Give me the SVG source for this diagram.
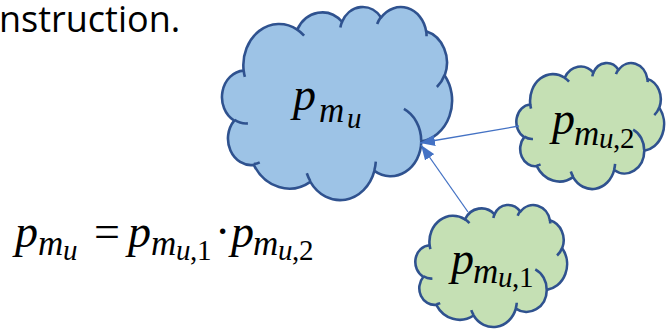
<svg xmlns="http://www.w3.org/2000/svg" xmlns:xlink="http://www.w3.org/1999/xlink" width="666" height="329" viewBox="0 0 666 329">
<defs>
<style>
.blue { fill:#9DC3E6; stroke:#2F528F; stroke-width:2.6 }
.green { fill:#C5E0B4; stroke:#2F528F; stroke-width:2.6 }
.inner { stroke:#2F528F; stroke-width:2.6 }
.math { font-family:"Liberation Serif","DejaVu Serif",serif; font-style:italic; fill:#000 }
.up { font-style:normal }
.p { font-size:46px }
.s { font-size:35px }
.ss { font-size:29px }
.conn { stroke:#4472C4; stroke-width:1.3; fill:none; marker-end:url(#arr) }
.body { font-family:"Open Sans","Noto Sans",sans-serif; fill:#000 }
</style>
<path id="cloudOuter" vector-effect="non-scaling-stroke" stroke-linejoin="round" d="M3900 14370 A6753 9190 0 0 1 14006 5202 A5333 7267 0 0 1 22457 3433 A4365 5945 0 0 1 29834 2482 A4857 6595 0 0 1 38319 5577 A5333 7273 0 0 1 41819 15461 A6775 9220 0 0 1 37405 30204 A5785 7867 0 0 1 28556 36814 A6752 9215 0 0 1 16482 39268 A7720 10543 0 0 1 5807 35475 A4360 5918 0 0 1 2113 25555 A4345 5945 0 0 1 3900 14370 Z"/>
<path id="cloudInner" vector-effect="non-scaling-stroke" fill="none" d="M4693 26177 A4345 5945 0 0 1 2160 25380 M6928 34899 A4360 5918 0 0 1 5820 35281 M16478 39090 A6752 9215 0 0 1 15809 37347 M28827 34751 A6752 9215 0 0 1 28561 36660 M34129 22954 A5785 7867 0 0 1 37381 30090 M41798 15354 A5333 7273 0 0 1 40350 18030 M38324 5426 A4857 6595 0 0 1 38400 6690 M29078 3952 A4857 6595 0 0 1 29820 2341 M22141 4720 A4365 5945 0 0 1 22500 3330 M14000 5192 A6753 9190 0 0 1 15300 6541 M4127 15789 A6753 9190 0 0 1 3900 14371"/>
<marker id="arr" viewBox="0 0 15 11" refX="15" refY="5.5" markerWidth="15" markerHeight="11" markerUnits="userSpaceOnUse" orient="auto">
<path d="M0 0 L15 5.5 L0 11 Z" fill="#4472C4"/>
</marker>
</defs>

<text class="body" x="-1" y="32" font-size="36">nstruction.</text>

<g id="node-pmu">
<g transform="translate(223,6.4) scale(0.0053009,0.0044676)">
<use xlink:href="#cloudOuter" class="blue"/>
<use xlink:href="#cloudInner" class="inner"/>
</g>
<text class="math"><tspan class="p" x="293" y="110">p</tspan><tspan class="s" x="319" y="122">m</tspan><tspan class="ss" x="347" y="128">u</tspan></text>
</g>

<g id="node-pmu2">
<g transform="translate(517,62.6) scale(0.0034028,0.0029167)">
<use xlink:href="#cloudOuter" class="green"/>
<use xlink:href="#cloudInner" class="inner"/>
</g>
<text class="math"><tspan class="p" x="552" y="134">p</tspan><tspan class="s" x="574" y="145">m</tspan><tspan class="ss" x="599" y="148">u</tspan><tspan class="up ss" x="613" y="148">,</tspan><tspan class="up ss" x="620" y="148">2</tspan></text>
</g>

<g id="node-pmu1">
<g transform="translate(416,204.6) scale(0.0034954,0.0028241)">
<use xlink:href="#cloudOuter" class="green"/>
<use xlink:href="#cloudInner" class="inner"/>
</g>
<text class="math"><tspan class="p" x="451" y="274">p</tspan><tspan class="s" x="473" y="283">m</tspan><tspan class="ss" x="498" y="286.7">u</tspan><tspan class="up ss" x="512" y="286.7">,</tspan><tspan class="up ss" x="519" y="286.7">1</tspan></text>
</g>

<g id="connectors">
<line class="conn" x1="519" y1="126" x2="420" y2="143"/>
<line class="conn" x1="468" y1="212" x2="421" y2="145"/>
</g>

<g id="formula">
<text class="math"><tspan class="p" x="15" y="247">p</tspan><tspan class="s" x="38" y="255">m</tspan><tspan class="ss" x="63" y="260">u</tspan><tspan class="up p" x="94" y="247">=</tspan><tspan class="p" x="128" y="247">p</tspan><tspan class="s" x="151" y="255">m</tspan><tspan class="ss" x="176" y="260">u</tspan><tspan class="up ss" x="190" y="260">,</tspan><tspan class="up ss" x="197" y="260">1</tspan><tspan class="up p" x="215" y="247">·</tspan><tspan class="p" x="231" y="247">p</tspan><tspan class="s" x="253" y="255">m</tspan><tspan class="ss" x="278" y="260">u</tspan><tspan class="up ss" x="292" y="260">,</tspan><tspan class="up ss" x="299" y="260">2</tspan></text>
</g>
</svg>
